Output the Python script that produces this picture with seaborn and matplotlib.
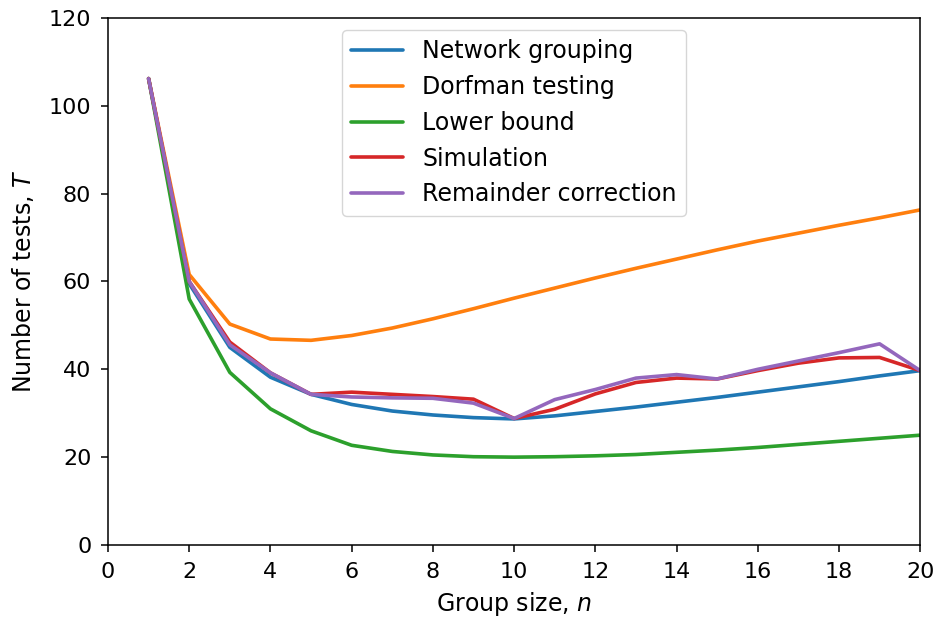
import numpy as np
import pandas as pd
import matplotlib
matplotlib.use("Agg")
import matplotlib.pyplot as plt
import seaborn as sns

n = list(range(1, 21))
network = [106.2, 59.5, 45.0, 38.2, 34.3, 32.0, 30.5, 29.6, 29.0, 28.7,
           29.4, 30.4, 31.4, 32.5, 33.6, 34.8, 36.0, 37.2, 38.5, 39.7]
dorfman = [106.2, 61.6, 50.3, 46.9, 46.6, 47.7, 49.4, 51.5, 53.8, 56.2,
           58.5, 60.8, 63.0, 65.1, 67.2, 69.2, 71.0, 72.8, 74.5, 76.3]
lower = [106.2, 56.0, 39.3, 31.0, 26.0, 22.7, 21.3, 20.5, 20.1, 20.0,
         20.1, 20.3, 20.6, 21.1, 21.6, 22.2, 22.9, 23.6, 24.3, 25.0]
simulation = [106.2, 60.0, 46.2, 39.2, 34.3, 34.8, 34.3, 33.8, 33.2, 28.8,
              30.9, 34.4, 37.0, 38.0, 37.8, 39.7, 41.4, 42.6, 42.7, 39.7]
remainder = [106.2, 60.0, 45.6, 39.2, 34.3, 33.7, 33.5, 33.4, 32.3, 28.8,
             33.1, 35.4, 38.0, 38.8, 37.8, 40.0, 41.9, 43.8, 45.8, 39.7]

labels = ["Network grouping", "Dorfman testing", "Lower bound",
          "Simulation", "Remainder correction"]
series = [network, dorfman, lower, simulation, remainder]

df = pd.DataFrame({
    "n": n * len(series),
    "T": sum(series, []),
    "method": sum([[lab] * len(n) for lab in labels], []),
})

sns.set_style("ticks")
plt.rcParams["font.family"] = ["DejaVu Sans"]
plt.rcParams.update({
    "text.color": "black", "axes.labelcolor": "black",
    "xtick.color": "black", "ytick.color": "black",
    "axes.edgecolor": "black", "axes.linewidth": 1.1,
})

fig, ax = plt.subplots(figsize=(9.39, 6.2), dpi=100)
fig.subplots_adjust(left=0.115, right=0.980, top=0.971, bottom=0.121)

sns.lineplot(data=df, x="n", y="T", hue="method", hue_order=labels,
             palette=sns.color_palette("tab10", 5), linewidth=2.6, ax=ax)

ax.set_xlim(0, 20)
ax.set_ylim(0, 120)
ax.set_xticks(range(0, 21, 2))
ax.set_yticks(range(0, 121, 20))
ax.tick_params(labelsize=16, width=1.1, length=5, pad=7)
ax.set_xlabel("Group size, $n$", fontsize=17, labelpad=6)
ax.set_ylabel("Number of tests, $T$", fontsize=17, labelpad=9)
leg = ax.legend(loc="upper center", fontsize=17, frameon=True,
                handlelength=2.2, borderpad=0.4, labelspacing=0.5)
leg.set_title(None)

fig.savefig("out.png", dpi=100)
